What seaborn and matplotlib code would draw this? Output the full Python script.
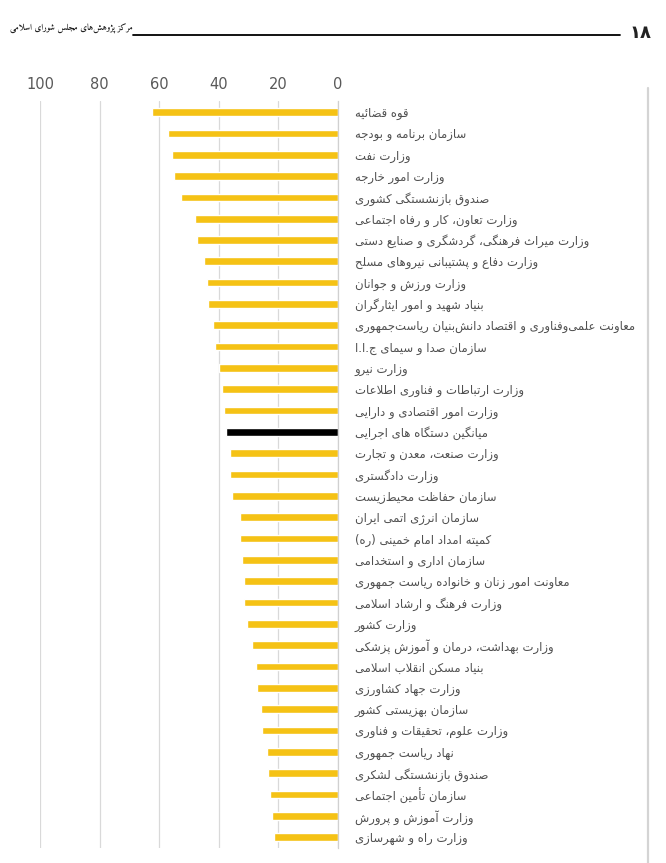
import pandas as pd
import matplotlib
matplotlib.use('Agg')
import matplotlib.pyplot as plt
from matplotlib.lines import Line2D
import seaborn as sns

# --- data ---
labels = [
    'قوه قضائیه',
    'سازمان برنامه و بودجه',
    'وزارت نفت',
    'وزارت امور خارجه',
    'صندوق بازنشستگی کشوری',
    'وزارت تعاون، کار و رفاه اجتماعی',
    'وزارت میراث فرهنگی، گردشگری و صنایع دستی',
    'وزارت دفاع و پشتیبانی نیروهای مسلح',
    'وزارت ورزش و جوانان',
    'بنیاد شهید و امور ایثارگران',
    'معاونت علمی\u200cوفناوری و اقتصاد دانش\u200cبنیان ریاست\u200cجمهوری',
    'سازمان صدا و سیمای ج.ا.ا',
    'وزارت نیرو',
    'وزارت ارتباطات و فناوری اطلاعات',
    'وزارت امور اقتصادی و دارایی',
    'میانگین دستگاه های اجرایی',
    'وزارت صنعت، معدن و تجارت',
    'وزارت دادگستری',
    'سازمان حفاظت محیط\u200cزیست',
    'سازمان انرژی اتمی ایران',
    'کمیته امداد امام خمینی (ره)',
    'سازمان اداری و استخدامی',
    'معاونت امور زنان و خانواده ریاست جمهوری',
    'وزارت فرهنگ و ارشاد اسلامی',
    'وزارت کشور',
    'وزارت بهداشت، درمان و آموزش پزشکی',
    'بنیاد مسکن انقلاب اسلامی',
    'وزارت جهاد کشاورزی',
    'سازمان بهزیستی کشور',
    'وزارت علوم، تحقیقات و فناوری',
    'نهاد ریاست جمهوری',
    'صندوق بازنشستگی لشکری',
    'سازمان تأمین اجتماعی',
    'وزارت آموزش و پرورش',
    'وزارت راه و شهرسازی',
]
values = [62.4, 57.2, 55.8, 55.0, 52.8, 48.1, 47.3, 45.0, 44.1, 43.7,
          42.0, 41.2, 40.1, 38.9, 38.4, 37.5, 36.3, 36.3, 35.6, 33.0,
          33.0, 32.3, 31.6, 31.6, 30.4, 28.9, 27.4, 27.1, 25.9, 25.5,
          23.9, 23.5, 22.7, 22.2, 21.6]
average_label = 'میانگین دستگاه های اجرایی'
x_ticks = [100, 80, 60, 40, 20, 0]
page_number = '\u06F1\u06F8'
header_title = 'مرکز پژوهش\u200cهای مجلس شورای اسلامی'

# --- simple Persian shaping (matplotlib has no complex text layout) ---
FORMS = {
    '\u0627': ('\uFE8D', '\uFE8E', None, None),
    '\u0622': ('\uFE81', '\uFE82', None, None),
    '\u0623': ('\uFE83', '\uFE84', None, None),
    '\u0628': ('\uFE8F', '\uFE90', '\uFE91', '\uFE92'),
    '\u067E': ('\uFB56', '\uFB57', '\uFB58', '\uFB59'),
    '\u062A': ('\uFE95', '\uFE96', '\uFE97', '\uFE98'),
    '\u062B': ('\uFE99', '\uFE9A', '\uFE9B', '\uFE9C'),
    '\u062C': ('\uFE9D', '\uFE9E', '\uFE9F', '\uFEA0'),
    '\u0686': ('\uFB7A', '\uFB7B', '\uFB7C', '\uFB7D'),
    '\u062D': ('\uFEA1', '\uFEA2', '\uFEA3', '\uFEA4'),
    '\u062E': ('\uFEA5', '\uFEA6', '\uFEA7', '\uFEA8'),
    '\u062F': ('\uFEA9', '\uFEAA', None, None),
    '\u0630': ('\uFEAB', '\uFEAC', None, None),
    '\u0631': ('\uFEAD', '\uFEAE', None, None),
    '\u0632': ('\uFEAF', '\uFEB0', None, None),
    '\u0698': ('\uFB8A', '\uFB8B', None, None),
    '\u0633': ('\uFEB1', '\uFEB2', '\uFEB3', '\uFEB4'),
    '\u0634': ('\uFEB5', '\uFEB6', '\uFEB7', '\uFEB8'),
    '\u0635': ('\uFEB9', '\uFEBA', '\uFEBB', '\uFEBC'),
    '\u0636': ('\uFEBD', '\uFEBE', '\uFEBF', '\uFEC0'),
    '\u0637': ('\uFEC1', '\uFEC2', '\uFEC3', '\uFEC4'),
    '\u0638': ('\uFEC5', '\uFEC6', '\uFEC7', '\uFEC8'),
    '\u0639': ('\uFEC9', '\uFECA', '\uFECB', '\uFECC'),
    '\u063A': ('\uFECD', '\uFECE', '\uFECF', '\uFED0'),
    '\u0641': ('\uFED1', '\uFED2', '\uFED3', '\uFED4'),
    '\u0642': ('\uFED5', '\uFED6', '\uFED7', '\uFED8'),
    '\u06A9': ('\uFB8E', '\uFB8F', '\uFB90', '\uFB91'),
    '\u06AF': ('\uFB92', '\uFB93', '\uFB94', '\uFB95'),
    '\u0644': ('\uFEDD', '\uFEDE', '\uFEDF', '\uFEE0'),
    '\u0645': ('\uFEE1', '\uFEE2', '\uFEE3', '\uFEE4'),
    '\u0646': ('\uFEE5', '\uFEE6', '\uFEE7', '\uFEE8'),
    '\u0647': ('\uFEE9', '\uFEEA', '\uFEEB', '\uFEEC'),
    '\u0648': ('\uFEED', '\uFEEE', None, None),
    '\u06CC': ('\uFBFC', '\uFBFD', '\uFBFE', '\uFBFF'),
    '\u0626': ('\uFE89', '\uFE8A', '\uFE8B', '\uFE8C'),
    '\u0640': ('\u0640', '\u0640', '\u0640', '\u0640'),
}
LAM_ALEF = {'\u0627': ('\uFEFB', '\uFEFC'), '\u0622': ('\uFEF5', '\uFEF6'),
            '\u0623': ('\uFEF7', '\uFEF8')}


def joins_forward(c):
    return c in FORMS and FORMS[c][2] is not None


def fa(text):
    # pick contextual forms, then reverse for right-to-left display
    out = []
    i, n = 0, len(text)
    while i < n:
        c = text[i]
        if c not in FORMS:
            out.append(c)
            i += 1
            continue
        jp = i > 0 and joins_forward(text[i - 1])
        if c == '\u0644' and i + 1 < n and text[i + 1] in LAM_ALEF:
            iso, fin = LAM_ALEF[text[i + 1]]
            out.append(fin if jp else iso)
            i += 2
            continue
        jn = joins_forward(c) and i + 1 < n and text[i + 1] in FORMS
        f = FORMS[c]
        if jp and jn:
            out.append(f[3])
        elif jp:
            out.append(f[1])
        elif jn:
            out.append(f[2])
        else:
            out.append(f[0])
        i += 1
    s = ''.join(out).replace('\u200c', '')[::-1]
    return s.translate(str.maketrans('()', ')('))


# --- plot ---
sns.set_style('white')
plt.rcParams['font.family'] = ['DejaVu Sans']

df = pd.DataFrame({'name': labels, 'value': values})
palette = {nm: ('#000000' if nm == average_label else '#F5C215') for nm in labels}

fig = plt.figure(figsize=(6.66, 8.63), dpi=100)
ax = fig.add_axes([40 / 666, 1 - 847.7 / 863, 298 / 666, 746.3 / 863])

sns.barplot(data=df, x='value', y='name', hue='name', palette=palette,
            legend=False, width=0.36, saturation=1, ax=ax)

ax.set_xlim(100, 0)
ax.set_xticks(x_ticks)
ax.set_xticklabels([str(t) for t in x_ticks])
ax.xaxis.tick_top()
ax.tick_params(axis='x', length=0, pad=7, labelsize=10.5, labelcolor='#595959')

ax.yaxis.tick_right()
ax.set_yticks(range(len(labels)))
ax.set_yticklabels([fa(s) for s in labels])
ax.tick_params(axis='y', length=0, pad=12, labelsize=8.4, labelcolor='#505050')

ax.grid(axis='x', color='#d9d9d9', linewidth=0.9)
ax.set_axisbelow(True)
for side in ['top', 'left', 'bottom']:
    ax.spines[side].set_visible(False)
ax.spines['right'].set_color('#d0d0d0')
ax.spines['right'].set_linewidth(0.9)
ax.set_xlabel('')
ax.set_ylabel('')

# page header and frame line
fig.add_artist(Line2D([133 / 666, 620 / 666], [1 - 35 / 863] * 2,
                      color='black', linewidth=1.3))
fig.text(652 / 666, 1 - 33 / 863, page_number, ha='right', va='center',
         fontsize=13, fontweight='bold', color='#222222')
fig.text(10 / 666, 1 - 29 / 863, fa(header_title), ha='left', va='center',
         fontsize=6.4, fontweight='bold', color='#222222',
         family=['Amiri', 'DejaVu Sans'])
fig.add_artist(Line2D([648 / 666] * 2, [0, 1 - 88 / 863],
                      color='#d4d4d4', linewidth=1.6))

fig.savefig('out.png', dpi=100)
